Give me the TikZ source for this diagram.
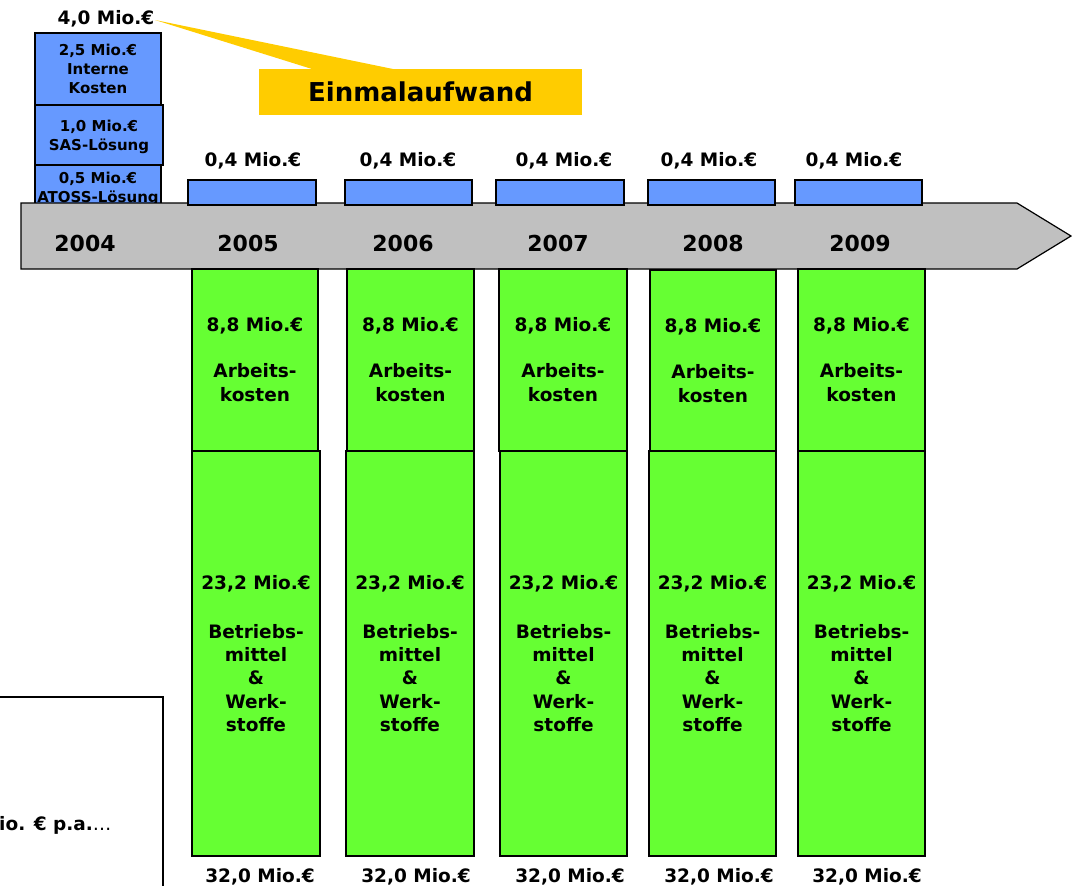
\documentclass[tikz,border=0pt]{standalone}
\usepackage{fontspec}
\setmainfont{DejaVu Sans}
\definecolor{bblue}{HTML}{6699FF}
\definecolor{ggreen}{HTML}{66FF33}
\definecolor{ggray}{HTML}{C0C0C0}
\definecolor{yyellow}{HTML}{FFCC00}
\begin{document}
\begin{tikzpicture}[x=1pt,y=-1pt,
  box/.style={draw=black, line width=1.2pt, inner sep=0pt, align=center},
  bluebox/.style={box, fill=bblue},
  greenbox/.style={box, fill=ggreen, font=\bfseries\fontsize{18.5}{24}\selectfont},
  greenlow/.style={box, fill=ggreen, font=\bfseries\fontsize{18.5}{23.3}\selectfont},
  stackfont/.style={font=\bfseries\fontsize{15}{19}\selectfont, text depth=0pt, align=center},
  stackbox/.style={bluebox, stackfont},
  lbl/.style={inner sep=0pt, font=\bfseries\fontsize{18.5}{23}\selectfont},
  yr/.style={inner sep=0pt, font=\bfseries\fontsize{22}{26}\selectfont},
]
\useasboundingbox (0,0) rectangle (1072,886);

% one-time cost stack (2004)
\node[stackbox, minimum width=126pt, minimum height=72pt] (s1) at (98,69) {2,5 Mio.€\\Interne\\Kosten};
\node[stackbox, minimum width=128pt, minimum height=60pt] (s2) at (99,135) {1,0 Mio.€\\SAS-Lösung};
\node[stackbox, minimum width=126pt, minimum height=40pt] (s3) at (98,185) {};
\node[stackfont, inner sep=0pt] (s3t) at (98,187.5) {0,5 Mio.€\\ATOSS-Lösung};
\node[lbl] (total) at (106,19) {4,0 Mio.€};

% callout
\fill[yyellow] (155,20) -- (393,69) -- (312,69) -- cycle;
\node[fill=yyellow, minimum width=323pt, minimum height=46pt, inner sep=0pt,
      font=\bfseries\fontsize{26}{30}\selectfont] (call) at (420.5,92) {Einmalaufwand};

% timeline arrow
\draw[line width=1.2pt, fill=ggray] (21,203) -- (1017,203) -- (1071,236) -- (1017,269) -- (21,269) -- cycle;
\node[yr] (y4) at (85,243) {2004};
\node[yr] (y5) at (248,243) {2005};
\node[yr] (y6) at (403,243) {2006};
\node[yr] (y7) at (558,243) {2007};
\node[yr] (y8) at (713,243) {2008};
\node[yr] (y9) at (860,243) {2009};

% yearly blue boxes
\node[bluebox, minimum width=128pt, minimum height=25pt] (b5) at (252,192.5) {};
\node[bluebox, minimum width=127pt, minimum height=25pt] (b6) at (408.5,192.5) {};
\node[bluebox, minimum width=128pt, minimum height=25pt] (b7) at (560,192.5) {};
\node[bluebox, minimum width=127pt, minimum height=25pt] (b8) at (711.5,192.5) {};
\node[bluebox, minimum width=127pt, minimum height=25pt] (b9) at (858.5,192.5) {};
\node[lbl] (l5) at (253,161) {0,4 Mio.€};
\node[lbl] (l6) at (408,161) {0,4 Mio.€};
\node[lbl] (l7) at (564,161) {0,4 Mio.€};
\node[lbl] (l8) at (709,161) {0,4 Mio.€};
\node[lbl] (l9) at (854,161) {0,4 Mio.€};

% green upper boxes
\node[greenbox, minimum width=126pt, minimum height=182pt] (a5) at (255,360) {8,8 Mio.€\\[22pt]Arbeits-\\kosten};
\node[greenbox, minimum width=127pt, minimum height=182pt] (a6) at (410.5,360) {8,8 Mio.€\\[22pt]Arbeits-\\kosten};
\node[greenbox, minimum width=128pt, minimum height=182pt] (a7) at (563,360) {8,8 Mio.€\\[22pt]Arbeits-\\kosten};
\node[greenbox, minimum width=126pt, minimum height=181pt] (a8) at (713,360.5) {8,8 Mio.€\\[22pt]Arbeits-\\kosten};
\node[greenbox, minimum width=127pt, minimum height=182pt] (a9) at (861.5,360) {8,8 Mio.€\\[22pt]Arbeits-\\kosten};

% green lower boxes
\node[greenlow, minimum width=128pt, minimum height=405pt] (m5) at (256,653.5) {23,2 Mio.€\\[25.7pt]Betriebs-\\mittel\\\&\\Werk-\\stoffe};
\node[greenlow, minimum width=128pt, minimum height=405pt] (m6) at (410,653.5) {23,2 Mio.€\\[25.7pt]Betriebs-\\mittel\\\&\\Werk-\\stoffe};
\node[greenlow, minimum width=127pt, minimum height=405pt] (m7) at (563.5,653.5) {23,2 Mio.€\\[25.7pt]Betriebs-\\mittel\\\&\\Werk-\\stoffe};
\node[greenlow, minimum width=127pt, minimum height=405pt] (m8) at (712.5,653.5) {23,2 Mio.€\\[25.7pt]Betriebs-\\mittel\\\&\\Werk-\\stoffe};
\node[greenlow, minimum width=127pt, minimum height=405pt] (m9) at (861.5,653.5) {23,2 Mio.€\\[25.7pt]Betriebs-\\mittel\\\&\\Werk-\\stoffe};

% totals
\node[lbl] (t5) at (260,877) {32,0 Mio.€};
\node[lbl] (t6) at (416,877) {32,0 Mio.€};
\node[lbl] (t7) at (570,877) {32,0 Mio.€};
\node[lbl] (t8) at (719,877) {32,0 Mio.€};
\node[lbl] (t9) at (867,877) {32,0 Mio.€};

% cut-off summary box
\draw[line width=2pt] (-5,697) -- (163,697) -- (163,895);
\node[lbl, anchor=base west] (sum) at (-1,830) {io. € p.a.{\mdseries …}};
\end{tikzpicture}
\end{document}
